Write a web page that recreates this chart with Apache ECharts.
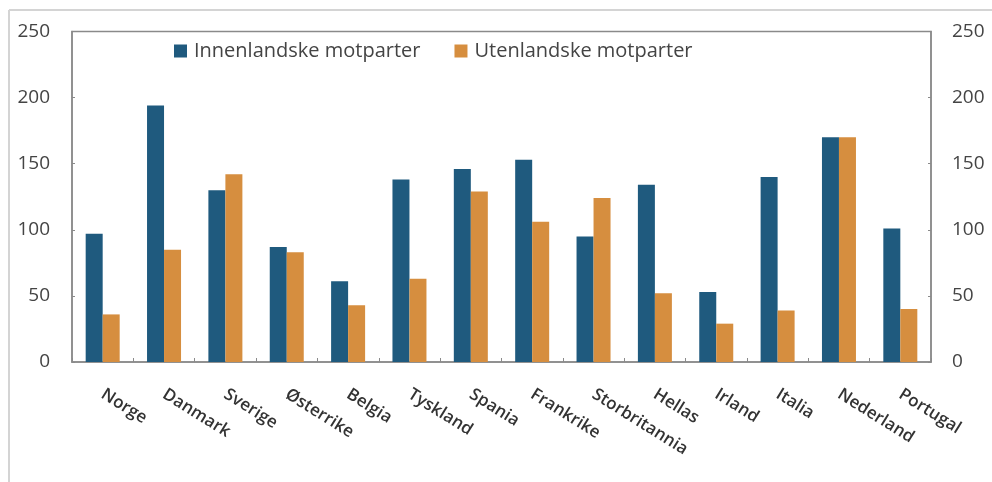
<!DOCTYPE html>
<html>
<head>
<meta charset="utf-8">
<script src="https://cdn.jsdelivr.net/npm/echarts@6/dist/echarts.min.js"></script>
<style>html,body{margin:0;padding:0;background:#fff;}#c{width:992px;height:482px;}</style>
</head>
<body>
<div id="c"></div>
<script>
const categories = ['Norge','Danmark','Sverige','Østerrike','Belgia','Tyskland','Spania','Frankrike','Storbritannia','Hellas','Irland','Italia','Nederland','Portugal'];
const innenlandske = [97, 194, 130, 87, 61, 138, 146, 153, 95, 134, 53, 140, 170, 101];
const utenlandske = [36, 85, 142, 83, 43, 63, 129, 106, 124, 52, 29, 39, 170, 40];
const yTicks = [0, 50, 100, 150, 200, 250];

const font = 'Open Sans';
const chart = echarts.init(document.getElementById('c'));
const yAxisBase = {
  type: 'value', min: yTicks[0], max: yTicks[yTicks.length-1], interval: yTicks[1]-yTicks[0],
  axisLine: {show: true, lineStyle: {color: '#8a8a8a', width: 1.5}},
  axisTick: {show: true, inside: true, length: 3, lineStyle: {color: '#8a8a8a'}},
  splitLine: {show: false},
  axisLabel: {color: '#444', fontFamily: font, fontSize: 19}
};
chart.setOption({
  animation: false,
  graphic: [
    {type: 'line', shape: {x1: 9, y1: 10, x2: 992, y2: 10}, style: {stroke: '#d4d4d4', lineWidth: 2}},
    {type: 'line', shape: {x1: 9, y1: 10, x2: 9, y2: 482}, style: {stroke: '#d4d4d4', lineWidth: 2}}
  ],
  grid: {left: 72, right: 61, top: 31.5, bottom: 120, show: true, borderColor: '#8a8a8a', borderWidth: 1.5},
  legend: {
    left: 174, top: 41, padding: 0, itemWidth: 13, itemHeight: 13, itemGap: 34, icon: 'rect',
    textStyle: {color: '#444', fontFamily: font, fontSize: 20, padding: [0,0,0,2]},
    data: ['Innenlandske motparter', 'Utenlandske motparter']
  },
  xAxis: {
    type: 'category', data: categories,
    axisLine: {lineStyle: {color: '#8a8a8a', width: 1.5}},
    axisTick: {show: true, inside: true, length: 4, lineStyle: {color: '#8a8a8a'}},
    axisLabel: {rotate: -32, margin: 31, color: '#333', fontFamily: font, fontSize: 17, fontWeight: 600, interval: 0}
  },
  yAxis: [
    Object.assign({}, yAxisBase, {position: 'left', axisLabel: Object.assign({}, yAxisBase.axisLabel, {margin: 22})}),
    Object.assign({}, yAxisBase, {position: 'right', axisLabel: Object.assign({}, yAxisBase.axisLabel, {margin: 21})})
  ],
  series: [
    {name: 'Innenlandske motparter', type: 'bar', data: innenlandske, barWidth: 17, barGap: '0%', itemStyle: {color: '#1f5a7e'}},
    {name: 'Utenlandske motparter', type: 'bar', data: utenlandske, barWidth: 17, barGap: '0%', itemStyle: {color: '#d68e3f'}}
  ]
});
</script>
</body>
</html>
